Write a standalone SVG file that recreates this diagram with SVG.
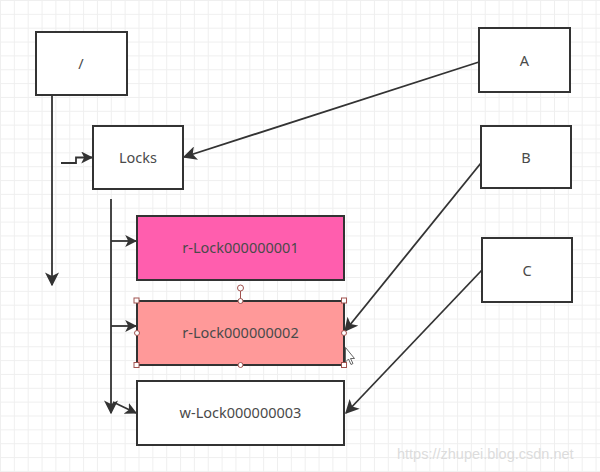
<svg xmlns="http://www.w3.org/2000/svg" width="600" height="472" viewBox="0 0 600 472">
  <defs>
    <pattern id="grid" patternUnits="userSpaceOnUse" width="13.85" height="13.85" x="0" y="0">
      <path d="M0,0.5 H13.85 M0.5,0 V13.85" fill="none" stroke="#efefef" stroke-width="1"/>
    </pattern>
    <marker id="arr" viewBox="0 0 10 10" refX="9" refY="5" markerWidth="12" markerHeight="12" markerUnits="userSpaceOnUse" orient="auto">
      <path d="M0,0 L10,5 L0,10 L2.5,5 Z" fill="#333"/>
    </marker>
    <marker id="arrL" viewBox="0 0 10 10" refX="9" refY="5" markerWidth="14" markerHeight="14" markerUnits="userSpaceOnUse" orient="auto">
      <path d="M0,0 L10,5 L0,10 L2.5,5 Z" fill="#333"/>
    </marker>
  </defs>
  <style>
    .box { fill: #fff; stroke: #333; stroke-width: 2; }
    .lbl { font-family: "Noto Sans", "Open Sans", "Liberation Sans", sans-serif; font-size: 14.5px; fill: #4a4a4a; text-anchor: middle; dominant-baseline: central; }
    .con { fill: none; stroke: #333; stroke-width: 1.8; }
    .hq { fill: #fff; stroke: #a0524f; stroke-width: 1; }
  </style>
  <rect width="600" height="472" fill="#fff"/>
  <rect width="600" height="472" fill="url(#grid)"/>

  <g id="connectors">
    <path class="con" d="M52,95 V285" marker-end="url(#arrL)"/>
    <path class="con" d="M61,163 H76 V157.5 H92" marker-end="url(#arr)"/>
    <path class="con" d="M111,199 V413" marker-end="url(#arrL)"/>
    <path class="con" d="M111,241 H136" marker-end="url(#arr)"/>
    <path class="con" d="M111,326 H136" marker-end="url(#arr)"/>
    <path class="con" d="M113,402 L136,413" marker-end="url(#arr)"/>
    <path class="con" d="M479,62 L184,157" marker-end="url(#arrL)"/>
    <path class="con" d="M481,163 L345,331" marker-end="url(#arrL)"/>
    <path class="con" d="M482,270 L346,413" marker-end="url(#arrL)"/>
  </g>

  <g id="root">
    <rect class="box" x="36" y="32" width="91" height="63"/>
    <text class="lbl" x="81" y="63">/</text>
  </g>
  <g id="locks">
    <rect class="box" x="93" y="126" width="90" height="63"/>
    <text class="lbl" x="138" y="157">Locks</text>
  </g>
  <g id="rlock1">
    <rect class="box" x="137" y="216" width="207" height="64" style="fill:#ff5eae"/>
    <text class="lbl" x="240.5" y="247">r-Lock000000001</text>
  </g>
  <g id="rlock2">
    <rect class="box" x="137" y="301" width="207" height="64" style="fill:#ff9999"/>
    <text class="lbl" x="240.5" y="332">r-Lock000000002</text>
    <line x1="240.5" y1="291" x2="240.5" y2="301" stroke="#a0524f" stroke-width="1"/>
    <circle class="hq" cx="240.5" cy="288" r="3"/>
    <rect class="hq" x="134" y="298" width="5" height="5"/>
    <rect class="hq" x="341.5" y="298" width="5" height="5"/>
    <rect class="hq" x="134" y="362.5" width="5" height="5"/>
    <rect class="hq" x="341.5" y="362.5" width="5" height="5"/>
    <circle class="hq" cx="240.5" cy="301" r="2.5"/>
    <circle class="hq" cx="240.5" cy="365" r="2.5"/>
    <circle class="hq" cx="137" cy="333" r="2.5"/>
    <circle class="hq" cx="344" cy="333" r="2.5"/>
  </g>
  <g id="wlock3">
    <rect class="box" x="137" y="381" width="207" height="64"/>
    <text class="lbl" x="240.5" y="412">w-Lock000000003</text>
  </g>
  <g id="A">
    <rect class="box" x="479" y="28" width="91" height="64"/>
    <text class="lbl" x="524.5" y="60">A</text>
  </g>
  <g id="B">
    <rect class="box" x="481" y="126" width="90" height="62"/>
    <text class="lbl" x="526" y="157">B</text>
  </g>
  <g id="C">
    <rect class="box" x="482" y="238" width="90" height="64"/>
    <text class="lbl" x="527" y="270">C</text>
  </g>

  <path d="M345.5,347.5 V362 L348.5,359 L351,364.5 L353,363.5 L350.5,358.5 L354.5,358.5 Z" fill="#fff" stroke="#555" stroke-width="0.9"/>

  <text x="397" y="459" font-family="Liberation Sans, Arial, sans-serif" font-size="14.5" fill="#dcdcdc">https://zhupei.blog.csdn.net</text>
</svg>
